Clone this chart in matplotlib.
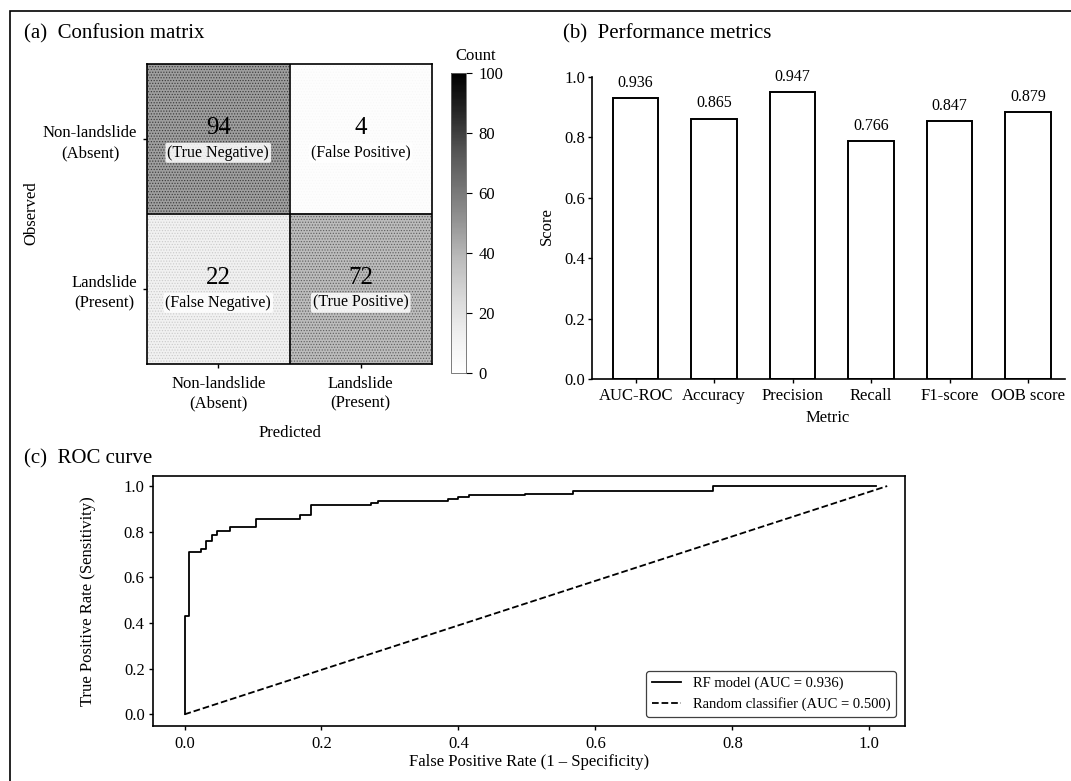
import matplotlib

matplotlib.use("Agg")
import matplotlib.pyplot as plt
import numpy as np
from matplotlib.patches import Rectangle

plt.rcParams["font.family"] = ["Liberation Serif", "DejaVu Serif"]
plt.rcParams["hatch.linewidth"] = 0.6

# Confusion matrix data
class_labels = ["Non-landslide\n(Absent)", "Landslide\n(Present)"]
cm_counts = [[94, 4], [22, 72]]
cm_names = [["(True Negative)", "(False Positive)"],
            ["(False Negative)", "(True Positive)"]]

# Performance metrics (bar heights as drawn, labels as printed)
metric_names = ["AUC-ROC", "Accuracy", "Precision", "Recall", "F1-score", "OOB score"]
metric_bars = [0.928, 0.861, 0.950, 0.786, 0.852, 0.883]
metric_labels = ["0.936", "0.865", "0.947", "0.766", "0.847", "0.879"]

# ROC curve (step corners)
roc_fpr = [0.0, 0.0, 0.007, 0.024, 0.031, 0.040, 0.048, 0.066, 0.104, 0.169,
           0.184, 0.272, 0.282, 0.385, 0.400, 0.415, 0.497, 0.567, 0.772, 1.009]
roc_tpr = [0.0, 0.43, 0.712, 0.726, 0.759, 0.785, 0.804, 0.822, 0.855, 0.873,
           0.917, 0.924, 0.935, 0.945, 0.954, 0.961, 0.964, 0.978, 1.0, 1.0]
diag_fpr = [0.0, 1.026]
diag_tpr = [0.0, 1.0]

W, H = 1071, 781


def fx(x):
    return x / W


def fy(y):
    return 1 - y / H


def box(x0, y0, x1, y1):
    return [fx(x0), fy(y1), fx(x1) - fx(x0), fy(y0) - fy(y1)]


fig = plt.figure(figsize=(W / 100, H / 100), dpi=100)

# outer frame
fig.patches.append(Rectangle((fx(10), fy(790)), 1.2, fy(11) - fy(790),
                             transform=fig.transFigure, fill=False,
                             edgecolor="black", linewidth=1.2))

TICK = 12

# (a) Confusion matrix
ax1 = fig.add_axes(box(147, 64.3, 432, 364.3))
cm = np.array(cm_counts)
ax1.imshow(cm, cmap="Greys", vmin=0, vmax=100, alpha=0.4, aspect="auto")
for i in range(2):
    for j in range(2):
        a = cm[i, j] / 100 * 0.6
        ax1.add_patch(Rectangle((j - 0.5, i - 0.5), 1, 1, fill=False, hatch="......",
                                edgecolor=(0, 0, 0, a), linewidth=0))
        ax1.text(j, i - 0.075, str(cm[i, j]), ha="center", va="center", fontsize=18)
        ax1.text(j, i + 0.09, cm_names[i][j], ha="center", va="center", fontsize=11.5,
                 bbox=dict(boxstyle="round,pad=0.12", facecolor="white",
                           edgecolor="none", alpha=0.85))
ax1.axhline(0.5, color="black", lw=1.2)
ax1.axvline(0.5, color="black", lw=1.2)
ax1.set_xticks([0, 1], class_labels, fontsize=TICK, multialignment="center",
               linespacing=1.3)
ax1.set_yticks([0, 1], class_labels, fontsize=TICK, multialignment="center",
               linespacing=1.3)
ax1.tick_params(axis="x", length=3, width=1, pad=5.5)
ax1.tick_params(axis="y", length=3, width=1, pad=4)
for s in ax1.spines.values():
    s.set_linewidth(1.2)

cax = fig.add_axes(box(451, 73.3, 466, 373.3))
sm = plt.cm.ScalarMappable(norm=plt.Normalize(0, 100), cmap="Greys")
cb = fig.colorbar(sm, cax=cax, ticks=[0, 20, 40, 60, 80, 100])
cb.outline.set_linewidth(0.6)
cb.outline.set_edgecolor("0.4")
cax.tick_params(labelsize=TICK, length=4, width=0.8, pad=5)

fig.text(fx(24), fy(33.3), "(a)  Confusion matrix", fontsize=15, va="center")
fig.text(fx(476), fy(56), "Count", fontsize=TICK, ha="center", va="center")
fig.text(fx(31), fy(213), "Observed", fontsize=TICK, rotation=90, ha="center", va="center")
fig.text(fx(290), fy(432.7), "Predicted", fontsize=TICK, ha="center", va="center")

# (b) Performance metrics
ax2 = fig.add_axes(box(592.1, 76.7, 1064.9, 379))
x = np.arange(len(metric_names))
ax2.bar(x, metric_bars, width=0.58, facecolor="white", edgecolor="black", linewidth=1.4)
for xi, h, lab in zip(x, metric_bars, metric_labels):
    ax2.annotate(lab, (xi, h), xytext=(0, 11), textcoords="offset points",
                 ha="center", va="center", fontsize=11.5, annotation_clip=False)
ax2.set_xlim(-0.555, 5.47)
ax2.set_ylim(0, 1.0)
ax2.set_xticks(x, metric_names, fontsize=TICK)
ax2.set_yticks(np.arange(0, 1.01, 0.2))
ax2.set_yticklabels([f"{v:.1f}" for v in np.arange(0, 1.01, 0.2)], fontsize=TICK)
ax2.tick_params(axis="x", length=3, width=1, pad=3.5)
ax2.tick_params(axis="y", length=3, width=1, pad=2)
ax2.spines["top"].set_visible(False)
ax2.spines["right"].set_visible(False)
for s in ["left", "bottom"]:
    ax2.spines[s].set_linewidth(1.2)

fig.text(fx(562.8), fy(33.3), "(b)  Performance metrics", fontsize=15, va="center")
fig.text(fx(547.3), fy(226), "Score", fontsize=TICK, rotation=90, ha="center", va="center")
fig.text(fx(828), fy(418), "Metric", fontsize=TICK, ha="center", va="center")

# (c) ROC curve
ax3 = fig.add_axes(box(153, 476, 905, 726))
ax3.plot(roc_fpr, roc_tpr, drawstyle="steps-post", color="black", lw=1.3,
         label="RF model (AUC = 0.936)")
ax3.plot(diag_fpr, diag_tpr, color="black", lw=1.3, ls="--",
         label="Random classifier (AUC = 0.500)")
ax3.set_xlim(-0.046, 1.052)
ax3.set_ylim(-0.051, 1.044)
ax3.set_xticks(np.arange(0, 1.01, 0.2))
ax3.set_xticklabels([f"{v:.1f}" for v in np.arange(0, 1.01, 0.2)], fontsize=TICK)
ax3.set_yticks(np.arange(0, 1.01, 0.2))
ax3.set_yticklabels([f"{v:.1f}" for v in np.arange(0, 1.01, 0.2)], fontsize=TICK)
ax3.tick_params(axis="x", length=3, width=1, pad=4.5)
ax3.tick_params(axis="y", length=3, width=1, pad=3)
for s in ax3.spines.values():
    s.set_linewidth(1.2)
leg = ax3.legend(loc="lower right", fontsize=10.5, frameon=True, fancybox=True,
                 borderaxespad=0.6, framealpha=1)
leg.get_frame().set_edgecolor("0.25")
leg.get_frame().set_linewidth(0.9)

fig.text(fx(24), fy(459.3), "(c)  ROC curve", fontsize=15, va="center")
fig.text(fx(87.8), fy(601), "True Positive Rate (Sensitivity)", fontsize=TICK,
         rotation=90, ha="center", va="center")
fig.text(fx(529), fy(762), "False Positive Rate (1 \u2013 Specificity)", fontsize=TICK,
         ha="center", va="center")

fig.savefig("out.png", dpi=100)
